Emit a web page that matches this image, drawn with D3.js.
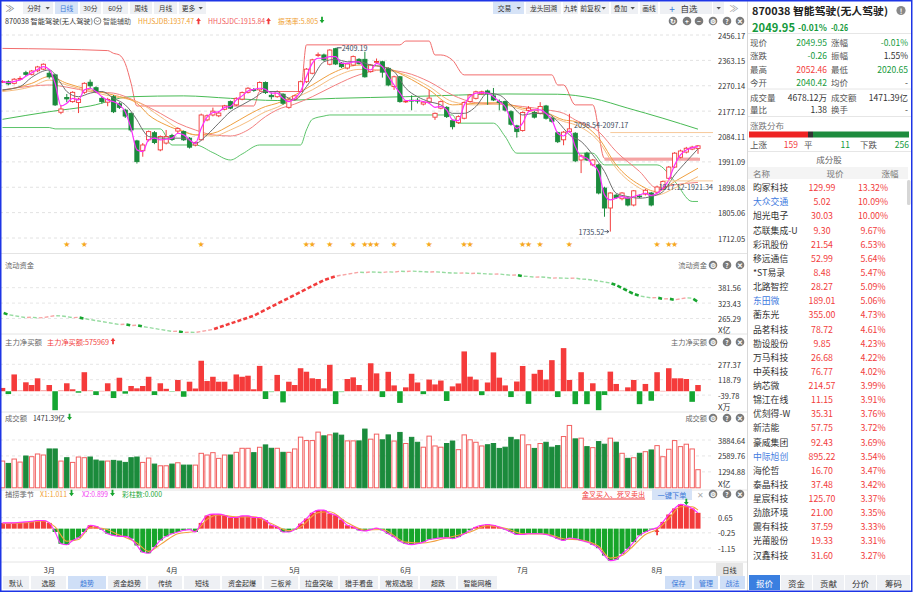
<!DOCTYPE html>
<html>
<head>
<meta charset="utf-8">
<script src="https://cdn.jsdelivr.net/npm/d3@7/dist/d3.min.js"></script>
<style>
  body { margin: 0; background: #fff; }
  svg text { font-family: "Noto Sans CJK SC", "Noto Sans", sans-serif; }
</style>
</head>
<body>
<svg id="chart" width="913" height="593"></svg>
<script>
// ---- data ----
const opens = [
  2284,2285,2279,2294,2318,2312,2325,2331,2316,2310, 2173,2227,2212,2209,2246,2283,2263,2224,2210,2230,
  2204,2181,2169,2068,2032,2072,2098,2035,2060,2088, 2104,2102,2078,2053,2072,2145,2163,2160,2184,2212,
  2200,2221,2246,2256,2255,2282,2235,2230,2239,2191, 2221,2249,2285,2316,2381,2383,2349,2406,2353,2335,
  2346,2367,2367,2322,2356,2358,2334,2267,2303,2211, 2217,2217,2203,2210,2155,2188,2191,2142,2135,2151,
  2212,2224,2241,2251,2233,2212,2212,2175,2123,2106, 2180,2172,2169,2196,2151,2098,2072,2102,2096,1998,
  2023,1980,1980,1895,1822,1869,1856,1858,1833,1866, 1873,1877,1880,1895,1931,1972,2008,2027,2038,2040.42];
const closes = [
  2286,2277,2294,2297,2312,2324,2339,2349,2303,2200, 2185,2222,2246,2221,2279,2270,2250,2212,2220,2175,
  2191,2159,2108,1992,2053,2102,2062,2084,2084,2073, 2113,2072,2045,2062,2163,2160,2177,2170,2196,2188,
  2224,2245,2261,2254,2282,2245,2230,2249,2206,2218, 2233,2285,2331,2365,2384,2365,2401,2350,2340,2350,
  2377,2352,2303,2346,2359,2320,2273,2303,2212,2214, 2215,2215,2210,2225,2169,2212,2157,2120,2157,2209,
  2236,2248,2248,2242,2218,2209,2181,2129,2102,2172, 2188,2155,2194,2151,2140,2065,2100,2112,1995,2013,
  1998,1998,1877,1822,1877,1860,1877,1833,1885,1864, 1887,1833,1899,1919,1972,2023,2031,2041,2045,2049.95];
const highs = [
  2290,2290,2298,2305,2325,2328,2343,2352,2330,2314, 2200,2240,2250,2226,2283,2293,2268,2232,2226,2236,
  2210,2186,2172,2072,2060,2106,2104,2088,2108,2094, 2118,2106,2082,2066,2168,2165,2190,2176,2200,2216,
  2228,2249,2265,2262,2286,2286,2245,2253,2243,2222, 2237,2289,2335,2369,2392,2388,2404,2409.19,2357,2354,
  2381,2371,2395,2350,2370,2362,2338,2307,2306,2218, 2235,2225,2214,2255,2172,2216,2195,2146,2162,2213,
  2240,2252,2252,2256,2262,2220,2216,2180,2127,2176, 2195,2178,2210,2200,2156,2102,2104,2167,2100,2018,
  2028,2002,1984,1900,1880,1873,1880,1862,1888,1872, 1892,1881,1904,1923,1976,2027,2036,2046,2050,2052.46];
const lows = [
  2280,2272,2275,2290,2306,2308,2320,2328,2296,2196, 2166,2210,2208,2170,2240,2260,2244,2205,2195,2170,
  2185,2152,2100,1985,2010,2066,2056,2030,2055,2068, 2095,2068,2040,2048,2070,2140,2158,2155,2180,2184,
  2196,2217,2242,2248,2250,2240,2220,2226,2200,2186, 2216,2245,2280,2312,2376,2360,2345,2346,2335,2330,
  2342,2348,2300,2318,2350,2300,2268,2255,2208,2207, 2180,2205,2198,2205,2145,2184,2152,2110,2130,2147,
  2208,2220,2236,2200,2214,2180,2176,2124,2080,2102, 2176,2150,2165,2146,2135,2060,2052,2098,1990,1950,
  1994,1975,1872,1790,1735.52,1855,1850,1828,1828,1858, 1868,1828,1876,1890,1927,1968,2004,2022,2034,2020.65];

// fast (magenta) line, one value per day
const fastLine = [
  2285,2282,2286,2291,2305,2318,2330,2340,2330,2279, 2196,2206,2224,2218,2255,2261,2249,2230,2218,2212,
  2200,2175,2114,2035,2029,2072,2078,2072,2074,2078, 2096,2090,2072,2059,2114,2155,2172,2175,2191,2194,
  2218,2233,2251,2257,2261,2257,2243,2243,2224,2212, 2224,2249,2304,2352,2371,2371,2377,2377,2352,2352,
  2358,2358,2334,2328,2352,2340,2304,2273,2243,2216, 2216,2216,2212,2206,2191,2194,2182,2145,2142,2200,
  2230,2243,2245,2243,2230,2212,2194,2145,2114,2133, 2175,2182,2182,2169,2145,2096,2086,2105,2047,2011,
  2004,1980,1956,1870,1852,1858,1864,1858,1864,1870, 1876,1868,1876,1895,1925,1980,2017,2035,2043,2047];

// slower lines, read at sample days: [day, value]
const grayLine = [[0,2255],[3,2267],[5,2301],[8,2328],[10,2279],[11,2249],[13,2230],[15,2243],[17,2249],[19,2224],
  [21,2200],[23,2145],[24,2108],[25,2084],[28,2078],[31,2078],[33,2059],[35,2090],[37,2133],[39,2175],[41,2200],
  [43,2224],[45,2249],[47,2249],[48,2236],[50,2218],[52,2267],[53,2297],[55,2358],[57,2367],[59,2358],[61,2358],
  [63,2346],[65,2340],[67,2322],[69,2261],[71,2230],[73,2212],[75,2200],[77,2169],[79,2169],[81,2194],[83,2243],
  [85,2236],[87,2200],[89,2163],[91,2169],[93,2169],[95,2139],[96,2114],[97,2090],[99,2066],[101,2017],[103,1956],
  [105,1876],[107,1864],[109,1858],[111,1864],[113,1882],[115,1943],[117,1992],[119,2039]];
const orangeLine = [[0,2252],[5,2279],[8,2304],[11,2279],[15,2255],[19,2236],[23,2206],[25,2163],[28,2126],[31,2102],
  [33,2090],[36,2096],[39,2126],[42,2163],[45,2194],[47,2206],[50,2236],[53,2273],[57,2322],[61,2346],[65,2340],
  [69,2304],[73,2255],[77,2200],[81,2206],[85,2208],[89,2188],[93,2172],[96,2145],[98,2139],[102,2078],[105,1980],
  [109,1907],[112,1882],[115,1919],[119,1968]];
const lightOrangeLine = [[0,2249],[5,2267],[8,2291],[11,2273],[15,2249],[19,2230],[23,2212],[27,2157],[30,2114],
  [33,2090],[36,2086],[39,2108],[42,2139],[45,2175],[47,2191],[50,2224],[53,2255],[57,2304],[61,2330],[65,2328],
  [69,2310],[73,2267],[77,2212],[81,2200],[85,2203],[89,2182],[93,2163],[96,2139],[98,2127],[102,2066],[105,1968],
  [109,1895],[112,1870],[115,1895],[119,1937]];
const salmonLine = [[0,2255],[5,2269],[8,2273],[11,2265],[15,2249],[19,2243],[23,2212],[27,2169],[30,2133],[33,2108],
  [36,2090],[39,2086],[42,2108],[45,2157],[47,2182],[50,2203],[53,2230],[57,2273],[61,2310],[65,2328],[69,2318],
  [73,2285],[77,2236],[81,2208],[85,2203],[89,2194],[93,2182],[96,2169],[98,2145],[102,2102],[105,2029],[109,1956],
  [112,1895],[115,1907],[119,1916]];
const longGreenLine = [[0,2147],[8,2175],[15,2196],[22,2230],[31,2233],[39,2224],[47,2216],[57,2224],[69,2230],
  [78,2236],[86,2240],[95,2239],[101,2224],[107,2188],[113,2151],[119,2111]];
const lowerBand = [[0,2117],[8,2117],[9,2112],[27,2112],[29,2053],[33,2053],[36,2025],[39,1998],[41,2020],[44,2053],
  [51,2053],[52,2108],[53,2147],[55,2159],[56,2163],[77,2163],[78,2133],[84,2133],[86,2084],[88,2023],[101,2023],
  [103,1980],[112,1980],[115,1920],[118,1846],[119,1846]];
const upperBand = [[0,2407],[18,2399],[19,2389],[20,2383],[21,2352],[22,2279],[23,2196],[43,2196],[44,2249],[51,2249],
  [52,2420],[68,2420],[69,2434],[73,2434],[74,2383],[75,2383],[77,2364],[79,2310],[94,2310],[95,2273],[96,2273],
  [98,2200],[101,2200],[103,2004],[119,2004]];

const priceTicks = ["2456.17","2363.15","2270.14","2177.12","2084.11","1991.09","1898.08","1805.06","1712.05"];
const starDays = [11,14,34,52,53,56,60,62,63,64,67,73,79,80,89,90,92,97,112,114,115];
const months = [[8,"3月"],[29,"4月"],[50,"5月"],[69,"6月"],[89,"7月"],[112,"8月"]];

const liquidity = [
  287.3,279.8,276.1,272.4,268.6,270.1,267.5,268.9,272.4,276.1, 275.0,272.4,268.6,269.5,264.9,261.2,257.4,253.7,250.0,246.3,
  242.5,243.6,238.8,239.9,235.1,231.4,227.6,223.9,220.2,216.5, 217.4,212.7,213.8,212.7,216.5,220.2,223.9,231.4,238.8,246.3,
  253.7,261.2,268.6,276.1,287.3,298.5,309.6,320.8,332.0,343.2, 354.3,365.5,376.7,387.9,399.0,410.2,417.7,425.1,428.9,432.6,
  436.3,440.0,438.6,441.2,440.0,438.9,441.5,440.3,443.8,442.2, 444.5,443.0,442.1,440.6,441.8,440.0,438.4,437.1,436.3,437.5,
  435.2,436.3,434.9,433.7,432.6,433.4,430.5,428.9,429.7,425.1, 424.0,421.4,422.3,420.5,417.7,418.6,417.7,416.8,417.9,414.0,
  413.1,410.2,406.5,402.8,399.0,391.6,380.4,369.2,358.1,350.6, 346.9,343.2,344.1,339.4,340.2,335.7,339.4,343.2,342.0,328.2];
const liqTicks = ["381.56","323.43","265.29"];

const netBuy = [
  34,-29,173,12,92,64,133,12,64,-195, 12,82,20,-15,196,12,-39,5,82,-70,
  139,-25,54,30,54,149,-39,82,25,-5, 116,-57,98,28,314,105,149,98,98,20,
  173,149,160,20,261,-80,-10,168,-115,98, 64,237,201,133,126,30,272,-132,-10,126,
  143,64,12,288,184,-60,200,60,-120,40, 180,90,-30,120,70,110,-100,50,80,410,
  150,120,-40,90,400,140,60,-60,100,260, -130,180,220,120,320,-60,444,116,-133,196,
  -133,82,-195,-39,202,75,10,40,116,-133, 75,-98,196,5,237,133,133,126,-109,64];
const netTicks = ["277.37","118.79","-39.78"];

const turnover = [
  2173,1981,2337,2091,2583,2528,2747,2665,3157,3157, 2173,2446,2064,2501,2446,2501,2255,2173,2173,2228,
  2173,2064,2446,2501,2064,2419,1927,1790,1790,1927, 2036,1845,1845,1845,2802,2665,2856,2392,2665,2665,
  2883,3211,3211,2856,3294,3485,3211,3211,2883,2883, 3157,4116,3838,3838,4526,4223,4305,4444,4278,3813,
  3813,3813,4772,3952,4362,3900,4300,3800,4500,3600, 4100,3700,3300,4200,3400,3300,3600,3800,3100,4300,
  3900,3700,3400,3500,3600,3200,3300,4100,3900,4300, 3500,3200,3600,3700,3300,3428,4166,5068,3977,4034,
  3346,3264,3756,3542,4034,3706,2804,2394,2444,2804, 2936,3075,3428,2526,3132,3838,3346,3542,3157,1471.39];
const volTicks = ["3884.64","2589.76","1294.88"];

const season = [
  0.34,0.34,0.34,0.38,0.40,0.44,0.48,0.48,0.34,-0.20, -0.90,-0.96,-0.70,-0.54,-0.20,0.20,0.14,-0.06,-0.30,-0.40,
  -0.46,-0.46,-0.60,-1.00,-1.40,-1.46,-1.10,-0.70,-0.46,-0.30, -0.20,-0.10,-0.06,-0.20,0.34,0.78,0.86,0.86,0.80,0.66,
  0.66,0.76,0.76,0.66,0.66,0.50,0.20,0.10,-0.20,-0.20, -0.06,0.30,0.60,0.94,1.10,1.10,0.90,0.80,0.54,0.20,
  0.10,-0.10,-0.14,-0.06,0.04,-0.10,-0.30,-0.50,-0.75,-0.90, -0.95,-0.90,-0.80,-0.65,-0.60,-0.55,-0.55,-0.60,-0.50,-0.30,
  -0.10,0.10,0.20,0.25,0.20,0.10,-0.05,-0.20,-0.35,-0.35, -0.30,-0.30,-0.30,-0.35,-0.45,-0.60,-0.70,-0.56,-0.60,-0.70,
  -0.80,-0.96,-1.16,-1.60,-1.90,-1.84,-1.50,-1.20,-0.80,-0.40, -0.20,-0.05,0.05,0.40,0.84,1.20,1.44,1.36,1.20,0.94];
const seasonX1 = [[0,0.30],[4,0.36],[7,0.45],[9,0.10],[11,-0.75],[13,-0.65],[15,0.05],[17,0.02],[20,-0.38],[23,-0.85],
  [25,-1.35],[27,-0.95],[30,-0.30],[33,-0.15],[35,0.55],[37,0.82],[40,0.70],[43,0.70],[46,0.30],[49,-0.12],[51,0.10],
  [54,0.95],[56,1.00],[59,0.35],[62,-0.08],[65,-0.05],[69,-0.80],[72,-0.85],[76,-0.55],[80,-0.20],[83,0.18],[86,0.02],
  [89,-0.30],[93,-0.32],[96,-0.60],[99,-0.68],[102,-1.05],[104,-1.75],[106,-1.60],[108,-1.00],[110,-0.35],[112,-0.05],
  [114,0.60],[116,1.30],[118,1.30],[119,1.10]];
const seasonTicks = ["0.65","-0.25","-1.15"];

const stockNames = ["昀冢科技","大众交通","旭光电子","芯联集成-U","彩讯股份","移远通信","*ST易录","北路智控","东田微",
  "蘅东光","品茗科技","勘设股份","万马科技","中英科技","纳芯微","锦江在线","优刻得-W","新洁能","豪威集团","中际旭创",
  "海伦哲","泰晶科技","星宸科技","劲旅环境","震有科技","光莆股份","汉鑫科技"];
const stockPrices = ["129.99","5.02","30.03","9.30","21.54","52.99","8.48","28.27","189.01","355.00","78.72","9.85",
  "26.68","76.77","214.57","11.15","35.31","57.75","92.43","895.22","16.70","37.48","125.70","21.00","37.59","19.33","31.60"];
const stockPcts = ["13.32%","10.09%","10.00%","9.67%","6.53%","5.64%","5.47%","5.09%","5.06%","4.73%","4.61%","4.23%",
  "4.22%","4.02%","3.99%","3.91%","3.76%","3.72%","3.69%","3.54%","3.47%","3.42%","3.37%","3.35%","3.33%","3.31%","3.27%"];
const blueNames = ["大众交通","东田微","中际旭创"];

// ---- drawing ----
const RED = "#f23c3c", GREEN = "#1b8b3c", BGREEN = "#17a52f";
const svg = d3.select("#chart");
const N = closes.length;

function T(x, y, s, size, color, anchor, weight) {
  return svg.append("text").attr("x", x).attr("y", y).text(s)
    .attr("font-size", size || 7.5).attr("fill", color || "#333")
    .attr("text-anchor", anchor || "start").attr("font-weight", weight || "normal")
    .attr("dominant-baseline", "central");
}
// text squeezed to the width it has in the picture
function TW(x, y, s, w, size, color, weight) {
  return T(x, y, s, size, color, "start", weight).attr("textLength", w).attr("lengthAdjust", "spacingAndGlyphs");
}
function arrow(x, y, color, up) {
  const d = up ? `M${x-2.4},${y} L${x},${y-3.2} L${x+2.4},${y} Z M${x-0.9},${y} h1.8 v3.2 h-1.8 Z`
               : `M${x-2.4},${y} L${x},${y+3.2} L${x+2.4},${y} Z M${x-0.9},${y} h1.8 v-3.2 h-1.8 Z`;
  svg.append("path").attr("d", d).attr("fill", color);
}
function hline(x1, x2, y, color, dash) {
  svg.append("line").attr("x1", x1).attr("x2", x2).attr("y1", y).attr("y2", y)
    .attr("stroke", color || "#e3e3e3").attr("stroke-dasharray", dash || null);
}
function icon(x, y, ch) {
  svg.append("circle").attr("cx", x).attr("cy", y).attr("r", 4.3).attr("fill", "#7a7a7a");
  T(x, y + 0.3, ch, 6.5, "#fff", "middle", "bold");
}

const xs = d3.scalePoint().domain(d3.range(N)).range([2.5, 698]);
const step = xs.step();

const defs = svg.append("defs");
function clip(id, y, h) {
  defs.append("clipPath").attr("id", id).append("rect").attr("x", 0).attr("y", y).attr("width", 704).attr("height", h);
}
clip("cMain", 27, 226); clip("cLiq", 255, 78); clip("cNet", 335, 76); clip("cVol", 413, 76); clip("cSea", 491, 71);

// frame + separators
svg.append("rect").attr("x", 0).attr("y", 0).attr("width", 913).attr("height", 593).attr("fill", "#fff");
[253.5, 334, 412, 490, 562].forEach(y => hline(0, 747, y, "#e4e4e4"));
svg.append("line").attr("x1", 747.5).attr("x2", 747.5).attr("y1", 0).attr("y2", 591).attr("stroke", "#d8d8d8");

// top toolbar
T(10, 8, "≫", 9, "#777", "middle");
const leftBtns = [["分时",23,53,true],["日线",55,78,false,true],["30分",80,101],["60分",103,128],["周线",130,152],["月线",154,177],["更多",179,206,true]];
const rightBtns = [["交易",493,524,true,true],["龙头回溯",526,561],["九转",563,578],["前复权",580,609,true],["叠加",611,638,true],["画线",640,658]];
leftBtns.concat(rightBtns).forEach(b => {
  svg.append("rect").attr("x", b[1]).attr("y", 2).attr("width", b[2] - b[1]).attr("height", 12)
    .attr("fill", b[4] ? "#d6e3f7" : "#eef0f4");
  const cx = b[3] ? (b[1] + b[2]) / 2 - 4 : (b[1] + b[2]) / 2;
  T(cx, 8, b[0], 6.8, b[4] && b[1] < 100 ? "#3a78d8" : "#333", "middle");
  if (b[3]) svg.append("path").attr("d", `M${b[2]-7.5},7 l2.2,2.4 l2.2,-2.4 Z`).attr("fill", "#555");
});
svg.append("rect").attr("x", 660).attr("y", 2).attr("width", 52).attr("height", 12).attr("fill", "#eef0f4");
svg.append("rect").attr("x", 713).attr("y", 2).attr("width", 11).attr("height", 12).attr("fill", "#eef0f4");
T(672, 8, "+", 10, "#3a78d8", "middle");
T(689, 8, "自选", 8.5, "#333", "middle");
svg.append("path").attr("d", "M716.5,7 l2.2,2.4 l2.2,-2.4 Z").attr("fill", "#555");
T(734, 8, "≫", 9, "#999", "middle");

// second row: title + indicator values
TW(5, 21, "870038 智能驾驶(无人驾驶)", 88, 7.2, "#333");
svg.append("circle").attr("cx", 97.5).attr("cy", 21).attr("r", 3.4).attr("fill", "none").attr("stroke", "#666").attr("stroke-width", 0.8);
svg.append("path").attr("d", "M96,20.3 l1.5,1.6 l1.5,-1.6").attr("fill", "none").attr("stroke", "#666").attr("stroke-width", 0.8);
TW(103, 21, "智能辅助", 28, 7.2, "#555");
TW(138, 21, "HHJSJDB:1937.47", 56, 7.2, "#f0a030"); arrow(198.5, 21, RED, true);
TW(208, 21, "HHJSJDC:1915.84", 57, 7.2, "#f25a5a"); arrow(268.5, 21, RED, true);
TW(278, 21, "振荡率:5.805", 40, 7.2, "#f0a030"); arrow(322, 20, BGREEN, false);
[[673,"↻"],[687,"+"],[699,"−"],[713,"⚙"],[727,"?"],[740,"✕"]].forEach(d => icon(d[0], 21, d[1]));

// ---- main price panel ----
const py = d3.scaleLinear().domain([1712.05, 2456.17]).range([238, 35]);
priceTicks.forEach(t => {
  hline(0, 713, py(+t), "#e2e2e2", "3,3");
  T(718, py(+t), t, 7.5, "#333");
});
const gMain = svg.append("g").attr("clip-path", "url(#cMain)");
const lineP = d3.line().x(d => xs(d[0])).y(d => py(d[1])).curve(d3.curveMonotoneX);
function drawLine(g, data, color, w) {
  g.append("path").datum(data).attr("d", lineP).attr("fill", "none").attr("stroke", color).attr("stroke-width", w || 1);
}
drawLine(gMain, upperBand, "#f26d6d", 1);
drawLine(gMain, lowerBand, "#5cc46a", 1);
drawLine(gMain, longGreenLine, "#49bb55", 1);
gMain.append("line").attr("x1", xs(103)).attr("x2", xs(119) + 2).attr("y1", py(2001)).attr("y2", py(2001))
  .attr("stroke", "#f5a3a3").attr("stroke-width", 3);
drawLine(gMain, salmonLine, "#f38080", 1);
drawLine(gMain, lightOrangeLine, "#f6bd80", 1);
drawLine(gMain, orangeLine, "#f0a040", 1);

const days = d3.range(N);
const up = i => closes[i] >= opens[i];
gMain.selectAll(".wick").data(days).join("line")
  .attr("x1", i => xs(i)).attr("x2", i => xs(i))
  .attr("y1", i => py(highs[i])).attr("y2", i => py(lows[i]))
  .attr("stroke", i => up(i) ? RED : GREEN);
gMain.selectAll(".body").data(days).join("rect")
  .attr("x", i => xs(i) - 2.1).attr("width", 4.2)
  .attr("y", i => py(Math.max(opens[i], closes[i])))
  .attr("height", i => Math.max(0.8, Math.abs(py(opens[i]) - py(closes[i]))))
  .attr("fill", i => up(i) ? "#fff" : GREEN)
  .attr("stroke", i => up(i) ? RED : GREEN).attr("stroke-width", 0.9);

drawLine(gMain, grayLine, "#6f6f6f", 1);
gMain.append("path").datum(fastLine.map((v, i) => [i, v])).attr("d", lineP)
  .attr("fill", "none").attr("stroke", "#ff2bff").attr("stroke-width", 1.2);

// gap markers and extremes
hline(xs(104), 713, py(2098.54), "#f7c99a");
T(574, 125, "2098.54-2097.17", 7.2, "#3d4a5c");
hline(xs(113), 713, py(1921.34), "#f7c99a");
T(713, 187, "1917.12-1921.34", 7.2, "#3d4a5c", "end");
svg.append("line").attr("x1", xs(57) + 1).attr("x2", xs(57) + 6).attr("y1", py(2409.19)).attr("y2", py(2409.19)).attr("stroke", "#3d4a5c");
T(xs(57) + 6, py(2409.19), "2409.19", 7.2, "#3d4a5c");
T(xs(104) - 6, py(1735.52), "1735.52", 7.2, "#3d4a5c", "end");
svg.append("path").attr("d", `M${xs(104)-6},${py(1735.52)} h4.5 M${xs(104)-3.5},${py(1735.52)-1.6} l2,1.6 l-2,1.6`)
  .attr("fill", "none").attr("stroke", "#3d4a5c").attr("stroke-width", 0.8);

starDays.forEach(i => T(xs(i), 243, "★", 6.2, "#f6a821", "middle"));

// ---- 流动资金 ----
const ly = d3.scaleLinear().domain([265.29, 381.56]).range([318.5, 287.7]);
TW(5, 265, "流动资金", 29, 7.2, "#666");
T(707, 265, "流动资金", 7.2, "#666", "end");
[[713,"⚙"],[727,"?"],[740,"✕"]].forEach(d => icon(d[0], 265, d[1]));
liqTicks.forEach(t => { hline(0, 713, ly(+t), "#e6e6e6", "3,3"); T(718, ly(+t), t, 7.5); });
T(718, 329, "X亿", 8, "#333");
const gLiq = svg.append("g").attr("clip-path", "url(#cLiq)");
days.slice(1).forEach(i => {
  const d = liquidity[i] - liquidity[i - 1];
  const big = Math.abs(d) > 4;
  const c = d >= 0 ? (big ? RED : "#f7a5a5") : (big ? BGREEN : "#96dba0");
  const x0 = xs(i - 1), x1 = xs(i), y0 = ly(liquidity[i - 1]), y1 = ly(liquidity[i]);
  gLiq.append("line")
    .attr("x1", x0 + (x1 - x0) * 0.2).attr("x2", x0 + (x1 - x0) * 0.85)
    .attr("y1", y0 + (y1 - y0) * 0.2).attr("y2", y0 + (y1 - y0) * 0.85)
    .attr("stroke", c).attr("stroke-width", big ? 2.6 : 1.4);
});

// ---- 主力净买额 ----
const ny = d3.scaleLinear().domain([-39.78, 277.37]).range([395.1, 364.3]);
TW(5, 342, "主力净买额", 37, 7.2, "#666");
TW(47, 342, "主力净买额:575969", 62, 7.2, RED); arrow(113, 341, RED, true);
T(707, 342, "主力净买额", 7.2, "#666", "end");
[[713,"⚙"],[727,"?"],[740,"✕"]].forEach(d => icon(d[0], 342, d[1]));
netTicks.forEach(t => { hline(0, 713, ny(+t), "#e6e6e6", "3,3"); T(718, ny(+t), t, 7.5); });
T(718, 406, "X万", 8, "#333");
const gNet = svg.append("g").attr("clip-path", "url(#cNet)");
gNet.selectAll("rect").data(days).join("rect")
  .attr("x", i => xs(i) - step / 2 + 0.15).attr("width", step - 0.3)
  .attr("y", i => Math.min(ny(0), ny(netBuy[i])))
  .attr("height", i => Math.max(0.8, Math.abs(ny(netBuy[i]) - ny(0))))
  .attr("fill", i => netBuy[i] >= 0 ? (netBuy[i] < 15 ? "#f8aaaa" : "#f53b3b") : (netBuy[i] > -15 ? "#8fd99a" : "#14a631"));

// ---- 成交额 ----
const vy = d3.scaleLinear().domain([0, 3884.64]).range([487.8, 440]);
TW(5, 418, "成交额", 22, 7.2, "#666");
TW(33, 418, "1471.39亿", 32, 7.2, "#333"); arrow(69.5, 417, BGREEN, false);
T(707, 418, "成交额", 7.2, "#666", "end");
[[713,"⚙"],[727,"?"],[740,"✕"]].forEach(d => icon(d[0], 418, d[1]));
volTicks.forEach(t => { hline(0, 713, vy(+t), "#e6e6e6", "3,3"); T(718, vy(+t), t, 7.5); });
T(718, 483, "X亿", 8, "#333");
const gVol = svg.append("g").attr("clip-path", "url(#cVol)");
gVol.selectAll("rect").data(days).join("rect")
  .attr("x", i => xs(i) - 2.2).attr("width", 4.4)
  .attr("y", i => vy(turnover[i])).attr("height", i => vy(0) - vy(turnover[i]))
  .attr("fill", i => up(i) ? "#fff" : GREEN)
  .attr("stroke", i => up(i) ? "#f26060" : GREEN).attr("stroke-width", 1);

// ---- 捕捞季节 ----
const sy = d3.scaleLinear().domain([-1.15, 0.65]).range([548, 517.7]);
TW(5, 494, "捕捞季节", 29, 7.2, "#666");
TW(40, 494, "X1:1.011", 27, 7.2, "#f0a030"); arrow(71.5, 493, BGREEN, false);
TW(82, 494, "X2:0.899", 26, 7.2, "#f23cf2"); arrow(112.5, 493, BGREEN, false);
TW(122, 494, "彩柱数:0.000", 40, 7.2, "#25a83a");
TW(582, 494, "金叉买入、死叉卖出", 63, 7.2, RED);
hline(582, 645, 499, RED);
svg.append("rect").attr("x", 652).attr("y", 489).attr("width", 40).attr("height", 11).attr("fill", "#d6e3f7");
T(672, 494.5, "一键下单", 7.2, "#3a78d8", "middle");
T(700, 494, "✕", 8, "#aaa", "middle");
[[713,"⚙"],[727,"?"],[740,"✕"]].forEach(d => icon(d[0], 494, d[1]));
seasonTicks.forEach(t => { hline(0, 713, sy(+t), "#e6e6e6", "3,3"); T(718, sy(+t), t, 7.5); });
const gSea = svg.append("g").attr("clip-path", "url(#cSea)");
gSea.selectAll("rect").data(days).join("rect")
  .attr("x", i => xs(i) - step / 2 + 0.4).attr("width", step - 0.8)
  .attr("y", i => Math.min(sy(0), sy(season[i])))
  .attr("height", i => Math.abs(sy(season[i]) - sy(0)))
  .attr("fill", i => season[i] >= 0 ? "#f23c3c" : "#17a52a");
const lineS = d3.line().x(d => xs(d[0])).y(d => sy(d[1])).curve(d3.curveMonotoneX);
gSea.append("path").datum(seasonX1).attr("d", lineS).attr("fill", "none").attr("stroke", "#f2a040").attr("stroke-width", 1.1);
gSea.append("path").datum(season.map((v, i) => [i, v])).attr("d", lineS).attr("fill", "none").attr("stroke", "#ff2bff").attr("stroke-width", 1.1);
arrow(xs(112), 532, RED, true);
arrow(xs(117), 502, BGREEN, false);

// ---- month axis + bottom tabs ----
months.forEach(m => T(xs(m[0]), 570, m[1], 7.2, "#333", "middle"));
svg.append("rect").attr("x", 716).attr("y", 563).attr("width", 27).attr("height", 13).attr("fill", "#e6e6e6");
T(729.5, 569.5, "日线", 7.2, "#333", "middle");
const tabs = [["默认",3,29],["选股",31,66],["趋势",68,106,true],["资金趋势",108,146],["传统",148,182],["短线",184,220],
  ["资金起爆",222,262],["三板斧",264,298],["拉盘突破",300,338],["猎手看盘",340,378],["常规选股",380,418],["超跌",420,456],["智能网格",458,497]];
tabs.forEach(t => {
  svg.append("rect").attr("x", t[1]).attr("y", 576).attr("width", t[2] - t[1]).attr("height", 13)
    .attr("fill", t[3] ? "#cfdff7" : "#eef0f4");
  T((t[1] + t[2]) / 2, 582.5, t[0], 7, t[3] ? "#3a78d8" : "#333", "middle");
});
[["保存",665,692],["管理",694,718],["战法",720,745]].forEach(t => {
  svg.append("rect").attr("x", t[1]).attr("y", 576).attr("width", t[2] - t[1]).attr("height", 13).attr("fill", "#cfdff7");
  T((t[1] + t[2]) / 2, 582.5, t[0], 7, "#3a78d8", "middle");
});

// ---- right quote panel ----
TW(752, 10.5, "870038 智能驾驶(无人驾驶)", 136, 10.5, "#222", "bold");
svg.append("circle").attr("cx", 901).attr("cy", 10.5).attr("r", 4.6).attr("fill", "#888");
T(901, 10.8, "!", 7, "#fff", "middle", "bold");
TW(752, 26.5, "2049.95", 43, 11.5, "#159a3c", "bold");
TW(798, 27, "-0.01%", 29, 8.5, "#159a3c", "bold");
TW(831, 27, "-0.26", 17, 8.5, "#159a3c", "bold");
[33.5, 89, 116.5, 151.5].forEach(y => hline(748, 911, y, "#e6e6e6"));
const quoteRows = [
  [42, "现价","2049.95","#159a3c","涨幅","-0.01%","#159a3c"],
  [55, "涨跌","-0.26","#159a3c","振幅","1.55%","#333"],
  [68.5, "最高","2052.46",RED,"最低","2020.65","#159a3c"],
  [81.5, "今开","2040.42","#159a3c","均价","-","#333"],
  [96.5, "成交量","4678.12万","#333","成交额","1471.39亿","#333"],
  [108.5, "量比","1.38","#333","换手","-","#333"]];
quoteRows.forEach(r => {
  T(750, r[0], r[1], 8.5, "#555");
  T(827, r[0], r[2], 8.5, r[3], "end");
  T(831, r[0], r[4], 8.5, "#555");
  T(908, r[0], r[5], 8.5, r[6], "end");
});
T(750, 124.5, "涨跌分布", 8.5, "#777");
svg.append("rect").attr("x", 749).attr("y", 131.5).attr("width", 59).attr("height", 6).attr("fill", "#ee2323");
svg.append("rect").attr("x", 808).attr("y", 131.5).attr("width", 5).attr("height", 6).attr("fill", "#333");
svg.append("rect").attr("x", 813).attr("y", 131.5).attr("width", 96).attr("height", 6).attr("fill", "#1e8c3e");
T(750, 144, "上涨", 8.5, "#555"); T(798, 144, "159", 8.5, RED, "end");
T(804, 144, "平", 8.5, "#555"); T(850, 144, "11", 8.5, "#159a3c", "end");
T(860, 144, "下跌", 8.5, "#555"); T(909, 144, "256", 8.5, "#159a3c", "end");
T(829, 159, "成分股", 8.5, "#666", "middle");
svg.append("rect").attr("x", 748).attr("y", 167).attr("width", 160).attr("height", 12).attr("fill", "#f4f4f4");
T(753, 173, "名称", 8.5, "#777"); T(835, 173, "现价", 8.5, "#777", "middle"); T(890, 173, "涨幅", 8.5, "#777", "middle");
svg.append("rect").attr("x", 907).attr("y", 180).attr("width", 3.5).attr("height", 25).attr("rx", 1.5).attr("fill", "#d6d6d6");
stockNames.forEach((n, k) => {
  const y = 187.7 + k * 14.13;
  T(753, y, n, 8.8, blueNames.includes(n) ? "#3f7be0" : "#333");
  T(822, y, stockPrices[k], 8.8, RED, "middle");
  T(873, y, stockPcts[k], 8.8, RED, "middle");
});
const rTabs = [["报价",749,780,true],["资金",781,812],["贡献",813,844],["分价",845,876],["筹码",877,910]];
rTabs.forEach(t => {
  svg.append("rect").attr("x", t[1]).attr("y", 575).attr("width", t[2] - t[1]).attr("height", 15)
    .attr("fill", t[3] ? "#3a7fe0" : "#eef0f4");
  T((t[1] + t[2]) / 2, 582.5, t[0], 8.5, t[3] ? "#fff" : "#333", "middle");
});

// blue window frame
svg.append("rect").attr("x", 0.75).attr("y", 0.75).attr("width", 911).attr("height", 590.5)
  .attr("fill", "none").attr("stroke", "#1d35e6").attr("stroke-width", 1.5);
</script>
</body>
</html>
